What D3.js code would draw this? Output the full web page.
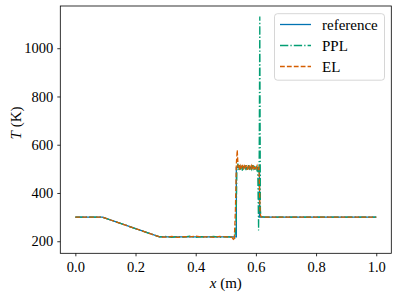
<!DOCTYPE html>
<html>
<head>
<meta charset="utf-8">
<script src="https://cdn.jsdelivr.net/npm/d3@7"></script>
<style>
  body { margin: 0; background: #fff; }
  text { font-family: "Liberation Serif", "Times New Roman", serif; fill: #000; }
  .axis path, .axis line { stroke: #000; stroke-width: 0.8; }
</style>
</head>
<body>
<script>
// data
var xRef = [0, 0.09, 0.28, 0.535, 0.535, 0.612, 0.612, 1.0];
var tRef = [300, 300, 218, 218, 505, 505, 300, 300];

var xPPL = [0, 0.09, 0.12, 0.15, 0.18, 0.21, 0.24, 0.27, 0.28, 0.30, 0.32, 0.34, 0.36, 0.38, 0.40, 0.42,
  0.44, 0.46, 0.48, 0.50, 0.52, 0.53, 0.534, 0.537, 0.540, 0.543, 0.546, 0.549, 0.552, 0.555, 0.558,
  0.561, 0.564, 0.567, 0.570, 0.573, 0.576, 0.579, 0.582, 0.585, 0.588, 0.591, 0.594, 0.597, 0.600,
  0.603, 0.606, 0.609, 0.611, 0.613, 0.615, 0.617, 0.62, 0.63, 0.7, 0.8, 0.9, 1.0];
var tPPL = [300, 300, 287, 274, 261, 248, 235, 222, 218, 220, 216, 219, 217, 221, 216, 219,
  217, 220, 216, 219, 217, 214, 262, 498, 522, 494, 516, 497, 513, 493, 511,
  498, 516, 495, 512, 497, 515, 494, 510, 499, 516, 495, 512, 496, 514,
  497, 508, 245, 560, 1131, 330, 296, 302, 300, 300, 300, 300, 300];

var xEL = [0, 0.09, 0.12, 0.15, 0.18, 0.21, 0.24, 0.27, 0.28, 0.30, 0.32, 0.34, 0.36, 0.38, 0.40, 0.42,
  0.44, 0.46, 0.48, 0.50, 0.52, 0.528, 0.532, 0.535, 0.538, 0.541, 0.544, 0.547, 0.550, 0.553, 0.556,
  0.559, 0.562, 0.565, 0.568, 0.571, 0.574, 0.577, 0.580, 0.583, 0.586, 0.589, 0.592, 0.595, 0.598,
  0.601, 0.604, 0.607, 0.610, 0.612, 0.614, 0.617, 0.62, 0.63, 0.7, 0.8, 0.9, 1.0];
var tEL = [300, 300, 287, 274, 261, 248, 235, 222, 218, 217, 220, 216, 219, 218, 221, 217,
  219, 216, 220, 218, 217, 203, 330, 520, 578, 505, 517, 496, 512, 499, 516,
  497, 511, 500, 515, 496, 510, 501, 514, 497, 512, 499, 516, 498, 511,
  502, 513, 500, 506, 430, 315, 302, 300, 300, 300, 300, 300, 300];

var xTicks = [0.0, 0.2, 0.4, 0.6, 0.8, 1.0];
var yTicks = [200, 400, 600, 800, 1000];

var series = [
  { name: "reference", x: xRef, t: tRef, color: "#0173b2", dash: null },
  { name: "PPL", x: xPPL, t: tPPL, color: "#029e73", dash: "8.3,2.1,1.3,2.1" },
  { name: "EL", x: xEL, t: tEL, color: "#d55e00", dash: "4.8,2.1" }
];

var W = 398, H = 298;
var m = { left: 60.3, top: 6, right: 6.7, bottom: 44.7 };

var svg = d3.select("body").append("svg")
  .attr("width", W)
  .attr("height", H);

var xScale = d3.scaleLinear().domain([-0.05, 1.05]).range([m.left, W - m.right]);
var yScale = d3.scaleLinear().domain([150, 1175]).range([H - m.bottom, m.top]);

var line = d3.line()
  .x(function(d) { return xScale(d[0]); })
  .y(function(d) { return yScale(d[1]); });

series.forEach(function(s) {
  var pts = s.x.map(function(v, i) { return [v, s.t[i]]; });
  svg.append("path")
    .attr("d", line(pts))
    .attr("fill", "none")
    .attr("stroke", s.color)
    .attr("stroke-width", 1.3)
    .attr("stroke-dasharray", s.dash);
});

// axes
var xAxis = d3.axisBottom(xScale).tickValues(xTicks).tickSize(3).tickPadding(5)
  .tickFormat(d3.format(".1f"));
var yAxis = d3.axisLeft(yScale).tickValues(yTicks).tickSize(3).tickPadding(4)
  .tickFormat(d3.format("d"));

svg.append("g").attr("class", "axis")
  .attr("transform", "translate(0," + (H - m.bottom) + ")")
  .call(xAxis)
  .call(function(g) { g.select(".domain").remove(); })
  .selectAll("text").style("font-size", "14.5px");
svg.append("g").attr("class", "axis")
  .attr("transform", "translate(" + m.left + ",0)")
  .call(yAxis)
  .call(function(g) { g.select(".domain").remove(); })
  .selectAll("text").style("font-size", "14.5px");

// frame
svg.append("rect")
  .attr("x", m.left).attr("y", m.top)
  .attr("width", W - m.left - m.right)
  .attr("height", H - m.top - m.bottom)
  .attr("fill", "none")
  .attr("stroke", "#000")
  .attr("stroke-width", 0.8);

// axis labels
var xl = svg.append("text")
  .attr("x", (m.left + W - m.right) / 2)
  .attr("y", 288)
  .attr("text-anchor", "middle")
  .style("font-size", "15px");
xl.append("tspan").style("font-style", "italic").text("x");
xl.append("tspan").text(" (m)");

var yl = svg.append("text")
  .attr("transform", "translate(21,123) rotate(-90)")
  .attr("text-anchor", "middle")
  .style("font-size", "15px");
yl.append("tspan").style("font-style", "italic").text("T");
yl.append("tspan").text(" (K)");

// legend
var lg = svg.append("g");
lg.append("rect")
  .attr("x", 274.5).attr("y", 13.7)
  .attr("width", 110).attr("height", 66.5)
  .attr("rx", 3)
  .attr("fill", "#fff").attr("fill-opacity", 0.8)
  .attr("stroke", "#ccc").attr("stroke-width", 0.8);
series.forEach(function(s, i) {
  var yy = 24.5 + i * 21;
  lg.append("line")
    .attr("x1", 280).attr("x2", 311)
    .attr("y1", yy).attr("y2", yy)
    .attr("stroke", s.color)
    .attr("stroke-width", 1.3)
    .attr("stroke-dasharray", s.dash);
  lg.append("text")
    .attr("x", 322).attr("y", yy + 5)
    .style("font-size", "15px")
    .text(s.name);
});
</script>
</body>
</html>
